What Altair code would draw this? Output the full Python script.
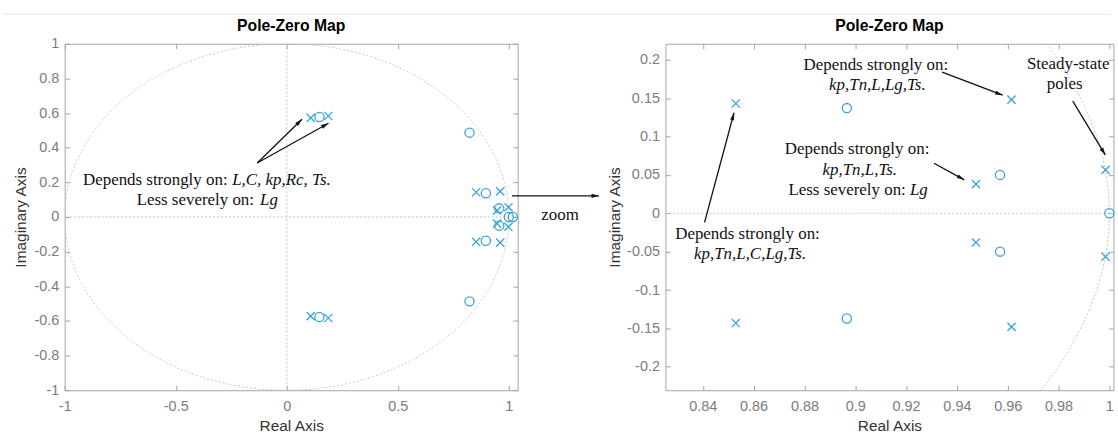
import math
import altair as alt
import numpy as np
import pandas as pd

# ---------------- data ----------------
pole_re = [0.108, 0.108, 0.187, 0.187, 0.853, 0.853, 0.9615, 0.9615, 0.9475, 0.9475, 0.9985, 0.9985]
pole_im = [0.572, -0.572, 0.583, -0.583, 0.143, -0.143, 0.148, -0.148, 0.038, -0.038, 0.0565, -0.0565]
zero_re = [0.147, 0.147, 0.823, 0.823, 0.8967, 0.8967, 0.957, 0.957, 1.0, 1.018]
zero_im = [0.577, -0.577, 0.487, -0.487, 0.137, -0.137, 0.050, -0.050, 0.0, 0.0]

left_xticks = [-1, -0.5, 0, 0.5, 1]
left_yticks = [-1, -0.8, -0.6, -0.4, -0.2, 0, 0.2, 0.4, 0.6, 0.8, 1]
right_xticks = [0.84, 0.86, 0.88, 0.9, 0.92, 0.94, 0.96, 0.98, 1]
right_yticks = [-0.2, -0.15, -0.1, -0.05, 0, 0.05, 0.1, 0.15, 0.2]

TITLE = "Pole-Zero Map"

# ---------------- annotations (data coordinates) ----------------
left_texts = [
    (-0.2664, 0.2115, "Depends strongly on:", "right", "normal"),
    (-0.2457, 0.2115, "L,C, kp,Rc, Ts.", "left", "italic"),
    (-0.1475, 0.0994, "Less severely on:", "right", "normal"),
    (-0.1205, 0.0994, "Lg", "left", "italic"),
    (1.231, 0.013, "zoom", "center", "normal"),
]
left_arrows = [
    (-0.133, 0.312, 0.0686, 0.564),
    (-0.133, 0.312, 0.188, 0.541),
    (1.014, 0.122, 1.406, 0.122),
]
right_texts = [
    (0.8576, -0.0268, "Depends strongly on:", "center", "normal"),
    (0.8586, -0.0528, "kp,Tn,L,C,Lg,Ts.", "center", "italic"),
    (0.9081, 0.1936, "Depends strongly on:", "center", "normal"),
    (0.9087, 0.1677, "kp,Tn,L,Lg,Ts.", "center", "italic"),
    (0.9007, 0.0834, "Depends strongly on:", "center", "normal"),
    (0.9018, 0.0562, "kp,Tn,L,Ts.", "center", "italic"),
    (0.9199, 0.0306, "Less severely on:", "right", "normal"),
    (0.9215, 0.0306, "Lg", "left", "italic"),
    (0.9838, 0.1950, "Steady-state", "center", "normal"),
    (0.9824, 0.1687, "poles", "center", "normal"),
]
right_arrows = [
    (0.8407, -0.0118, 0.8523, 0.1309),
    (0.9342, 0.1840, 0.958, 0.1538),
    (0.931, 0.0652, 0.9429, 0.0436),
    (0.9856, 0.1460, 0.9984, 0.0760),
]

# ---------------- styles ----------------
BLUE = "#3aa3dc"
BOX = "#a3a3a3"
LABEL = "#7c7c7c"
TITLEC = "#333333"
GRID = "#c4c4c4"
SANS = "Liberation Sans"
SERIF = "Liberation Serif"
XPATH = "M-1,-1L1,1M-1,1L1,-1"
HEAD = "M0,0L-0.55,2L0.55,2Z"

# unit circle (reference geometry), traced from -pi to pi so arcs near z=1 stay continuous
theta = np.linspace(-np.pi, np.pi, 1441)
circle_df = pd.DataFrame({"cx": np.cos(theta), "cy": np.sin(theta), "i": np.arange(len(theta))})


def head_angle(a, xdom, ydom, W, H):
    x1, y1, x2, y2 = a
    dx = (x2 - x1) / (xdom[1] - xdom[0]) * W
    dy = -(y2 - y1) / (ydom[1] - ydom[0]) * H
    return math.degrees(math.atan2(dx, -dy)) % 360


def panel(xdom, ydom, xticks, yticks, W, H, title_x, texts, arrows, left=False):
    xs = alt.Scale(domain=xdom, nice=False, zero=False)
    ys = alt.Scale(domain=ydom, nice=False, zero=False)
    poles = pd.DataFrame({"re": pole_re, "im": pole_im})
    zeros = pd.DataFrame({"re": zero_re, "im": zero_im})
    keep = (alt.datum.re >= xdom[0]) & (alt.datum.re <= xdom[1]) & (alt.datum.im >= ydom[0]) & (alt.datum.im <= ydom[1])
    mx = (xdom[1] - xdom[0]) * 0.01
    my = (ydom[1] - ydom[0]) * 0.01
    keep_c = ((alt.datum.cx >= xdom[0] - mx) & (alt.datum.cx <= xdom[1] + mx)
              & (alt.datum.cy >= ydom[0] - my) & (alt.datum.cy <= ydom[1] + my))
    one = pd.DataFrame({"a": [0]})

    layers = []
    layers.append(
        alt.Chart(circle_df).transform_filter(keep_c).mark_line(
            clip=True, stroke=GRID, strokeWidth=1, strokeDash=[2, 2]).encode(
            x=alt.X("cx:Q", scale=xs, axis=None), y=alt.Y("cy:Q", scale=ys, axis=None), order="i:Q")
    )
    layers.append(
        alt.Chart(pd.DataFrame({"v": [0]})).mark_rule(stroke=GRID, strokeWidth=1, strokeDash=[2, 2]).encode(
            y=alt.Y("v:Q", scale=ys, axis=None))
    )
    if left:
        layers.append(
            alt.Chart(pd.DataFrame({"v": [0]})).mark_rule(stroke=GRID, strokeWidth=1, strokeDash=[2, 2]).encode(
                x=alt.X("v:Q", scale=xs, axis=None))
        )
    # main axes + poles
    layers.append(
        alt.Chart(poles).transform_filter(keep).mark_point(shape=XPATH, filled=False, size=68, strokeWidth=1.3, color=BLUE, opacity=1).encode(
            x=alt.X("re:Q", scale=xs, axis=alt.Axis(
                orient="bottom", values=xticks, offset=-5, tickSize=5, tickColor=BOX, tickWidth=1,
                domain=False, grid=False, labelExpr="'' + datum.value", labelFont=SANS, labelFontSize=14.5,
                labelColor=LABEL, labelPadding=9.5, labelFlush=False, labelOverlap=False,
                title="Real Axis", titleFont=SANS, titleFontSize=15.5, titleFontWeight="normal",
                titleColor=TITLEC, titleY=40, titleBaseline="middle")),
            y=alt.Y("im:Q", scale=ys, axis=alt.Axis(
                orient="left", values=yticks, offset=-5, tickSize=5, tickColor=BOX, tickWidth=1,
                domain=False, grid=False, labelExpr="'' + datum.value", labelFont=SANS, labelFontSize=14.5,
                labelColor=LABEL, labelPadding=6, labelFlush=False, labelOverlap=False,
                title="Imaginary Axis", titleFont=SANS, titleFontSize=15.5, titleFontWeight="normal",
                titleColor=TITLEC, titleX=title_x, titleBaseline="middle", titleAngle=270)),
        )
    )
    # zeros
    layers.append(
        alt.Chart(zeros).transform_filter(keep).mark_point(shape="circle", filled=False, size=85, strokeWidth=1.3, color=BLUE, opacity=1).encode(
            x=alt.X("re:Q", scale=xs, axis=None), y=alt.Y("im:Q", scale=ys, axis=None))
    )
    # mirrored inward ticks on top / right
    layers.append(
        alt.Chart(poles).transform_filter(keep).mark_point(opacity=0).encode(
            x=alt.X("re:Q", scale=xs, title=None, axis=alt.Axis(
                orient="top", values=xticks, offset=-5, tickSize=5, tickColor=BOX, tickWidth=1,
                domain=False, grid=False, labels=False)),
            y=alt.Y("im:Q", scale=ys, title=None, axis=alt.Axis(
                orient="right", values=yticks, offset=-5, tickSize=5, tickColor=BOX, tickWidth=1,
                domain=False, grid=False, labels=False)),
        )
    )
    # arrows
    arr = pd.DataFrame(arrows, columns=["x1", "y1", "x2", "y2"])
    arr["ang"] = [head_angle(a, xdom, ydom, W, H) for a in arrows]
    layers.append(
        alt.Chart(arr).mark_rule(color="#111111", strokeWidth=1.3).encode(
            x=alt.X("x1:Q", scale=xs, axis=None), y=alt.Y("y1:Q", scale=ys, axis=None), x2="x2:Q", y2="y2:Q")
    )
    layers.append(
        alt.Chart(arr).mark_point(shape=HEAD, filled=True, size=56, color="#111111", opacity=1, strokeWidth=0).encode(
            x=alt.X("x2:Q", scale=xs, axis=None), y=alt.Y("y2:Q", scale=ys, axis=None),
            angle=alt.Angle("ang:Q", scale=None))
    )
    # texts
    tdf = pd.DataFrame(texts, columns=["x", "y", "t", "align", "style"])
    for (al, st), g in tdf.groupby(["align", "style"]):
        layers.append(
            alt.Chart(g[["x", "y", "t"]]).mark_text(font=SERIF, fontSize=17, color="#111111", align=al,
                                                    baseline="middle", fontStyle=st).encode(
                x=alt.X("x:Q", scale=xs, axis=None), y=alt.Y("y:Q", scale=ys, axis=None), text="t:N")
        )
    # panel title
    layers.append(
        alt.Chart(pd.DataFrame({"t": [TITLE]})).mark_text(
            font=SANS, fontSize=15.8, fontWeight="bold", color="#000000", align="center", baseline="middle").encode(
            x=alt.value(W / 2), y=alt.value(-17.5), text="t:N")
    )
    if left:
        layers.append(alt.Chart(one).mark_rule(color="#e6e6e6", strokeWidth=1).encode(
            x=alt.value(-61.6), x2=alt.value(1114 - 63.6), y=alt.value(-29.6)))
        layers.append(alt.Chart(one).mark_rule(strokeOpacity=0).encode(
            x=alt.value(-63.6), x2=alt.value(-63.6), y=alt.value(-42.3), y2=alt.value(-40)))

    return alt.layer(*layers).resolve_axis(x="independent", y="independent").properties(width=W, height=H)


left_chart = panel([-1, 1.04], [-1, 1], left_xticks, left_yticks, 455, 348, -49, left_texts, left_arrows, left=True)
right_chart = panel([0.8253, 1.0016], [-0.2305, 0.2208], right_xticks, right_yticks, 450, 348, -56.3,
                    right_texts, right_arrows)

chart = alt.hconcat(left_chart, right_chart, spacing=148.4, bounds="flush").configure_view(
    stroke=BOX, strokeWidth=1).properties(padding=0, background="white")

chart.save("out.html", embed_options={"renderer": "svg", "actions": False})
